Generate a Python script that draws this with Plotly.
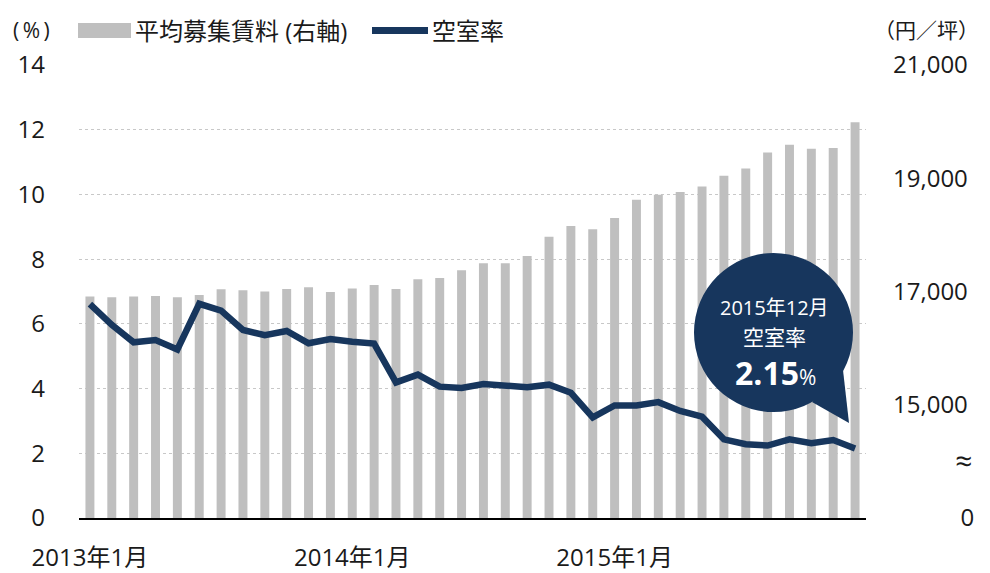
import plotly.graph_objects as go

# ---- data ----
months = [f"{y}年{m}月" for y in (2013, 2014, 2015) for m in range(1, 13)]
rent = [16910, 16900, 16910, 16920, 16900, 16940, 17040, 17020, 17000, 17045, 17075, 16990,
        17055, 17115, 17045, 17215, 17240, 17375, 17500, 17500, 17625, 17965, 18155, 18100,
        18300, 18620, 18710, 18755, 18855, 19045, 19170, 19455, 19590, 19520, 19535, 19990]
vacancy = [6.61, 5.97, 5.43, 5.50, 5.21, 6.62, 6.41, 5.81, 5.65, 5.78, 5.40, 5.53,
           5.45, 5.39, 4.19, 4.43, 4.06, 4.02, 4.14, 4.08, 4.04, 4.12, 3.87, 3.11,
           3.48, 3.48, 3.58, 3.31, 3.13, 2.43, 2.28, 2.24, 2.43, 2.31, 2.41, 2.15]
x_tick_vals = ["2013年1月", "2014年1月", "2015年1月"]
left_ticks = [0, 2, 4, 6, 8, 10, 12, 14]
right_tick_vals = [13000, 15000, 17000, 19000, 21000]
right_tick_text = ["\u2007\u2007\u2007\u2008\u2007 0", "15,000", "17,000", "19,000", "21,000"]
rent_name = "平均募集賃料 (右軸)"
vac_name = "空室率"

FONT = "Open Sans, Noto Sans CJK JP"
NAVY = "#17365d"
GRAY = "#bfbfbf"
TXT = "#1a1a1a"

OFF = 8  # page body margin
W, H = 990, 573
# plot area in page pixels: x 79..866, y 65..518
L = 79 - OFF
T = 65 - OFF
R = W - (866 - OFF)
B = H - (518 - OFF)
PW, PH = W - L - R, H - T - B


def px(x):
    return (x - OFF - L) / PW


def py(y):
    return (H - B - (y - OFF)) / PH


fig = go.Figure()
fig.add_trace(go.Bar(x=months, y=rent, name=rent_name, marker_color=GRAY,
                     marker_line_width=0, width=0.41, yaxis="y"))
fig.add_trace(go.Scatter(x=months, y=vacancy, name=vac_name, mode="lines",
                         line=dict(color=NAVY, width=6.5), yaxis="y2"))

fig.update_layout(
    width=W, height=H,
    margin=dict(l=L, r=R, t=T, b=B, autoexpand=False),
    paper_bgcolor="white", plot_bgcolor="white",
    showlegend=False,
    font=dict(family=FONT, color=TXT),
    xaxis=dict(type="category", range=[-0.5, 35.5], tickvals=x_tick_vals,
               ticktext=x_tick_vals, ticks="", showgrid=False, showline=True,
               linecolor="#000000", linewidth=1.5, tickfont=dict(size=24),
               ticklabelstandoff=17, automargin=False),
    yaxis=dict(side="right", range=[13000, 21000], tickvals=right_tick_vals,
               ticktext=right_tick_text, showgrid=False, zeroline=False, ticks="",
               tickfont=dict(size=24), ticklabelstandoff=26, automargin=False),
    yaxis2=dict(side="left", overlaying="y", range=[0, 14], tickvals=left_ticks,
                showgrid=True, gridcolor="#c8c8c8", griddash="dot", gridwidth=1,
                zeroline=False, ticks="", tickfont=dict(size=24), ticklabelstandoff=33,
                automargin=False),
)

shapes = [
    # legend swatches
    dict(type="rect", xref="paper", yref="paper", x0=px(78), x1=px(131), y0=py(38), y1=py(23),
         fillcolor=GRAY, line_width=0),
    dict(type="line", xref="paper", yref="paper", x0=px(372), x1=px(428), y0=py(30.5), y1=py(30.5),
         line=dict(color=NAVY, width=7)),
    # speech bubble
    dict(type="circle", xref="paper", yref="paper", x0=px(694), x1=px(853), y0=py(412), y1=py(253),
         fillcolor=NAVY, line_width=0, layer="above"),
    dict(type="path", xref="paper", yref="paper",
         path=f"M {px(812)},{py(402)} L {px(843)},{py(370)} L {px(849)},{py(423)} Z",
         fillcolor=NAVY, line_width=0, layer="above"),
]
fig.update_layout(shapes=shapes)

ann = [
    dict(text=rent_name, x=px(133), y=py(30), xanchor="left", yanchor="middle", font=dict(size=24)),
    dict(text=vac_name, x=px(430), y=py(30), xanchor="left", yanchor="middle", font=dict(size=24)),
    dict(text="(\u2009%\u2009)", x=px(11), y=py(30), xanchor="left", yanchor="middle", font=dict(size=21)),
    dict(text="（円／坪）", x=px(981), y=py(30), xanchor="right", yanchor="middle", font=dict(size=21)),
    dict(text="≈", x=px(963), y=py(460), xanchor="center", yanchor="middle", font=dict(size=30)),
    dict(text="2015年12月", x=px(774), y=py(307), xanchor="center", yanchor="middle",
         font=dict(size=20, color="white")),
    dict(text="空室率", x=px(774), y=py(337), xanchor="center", yanchor="middle",
         font=dict(size=21, color="white")),
    dict(text="<b>2.15</b><span style='font-size:21px'>%</span>", x=px(775), y=py(373),
         xanchor="center", yanchor="middle", font=dict(size=32, color="white")),
]
for a in ann:
    a.update(xref="paper", yref="paper", showarrow=False)
fig.update_layout(annotations=ann)

fig.write_html("out.html")
